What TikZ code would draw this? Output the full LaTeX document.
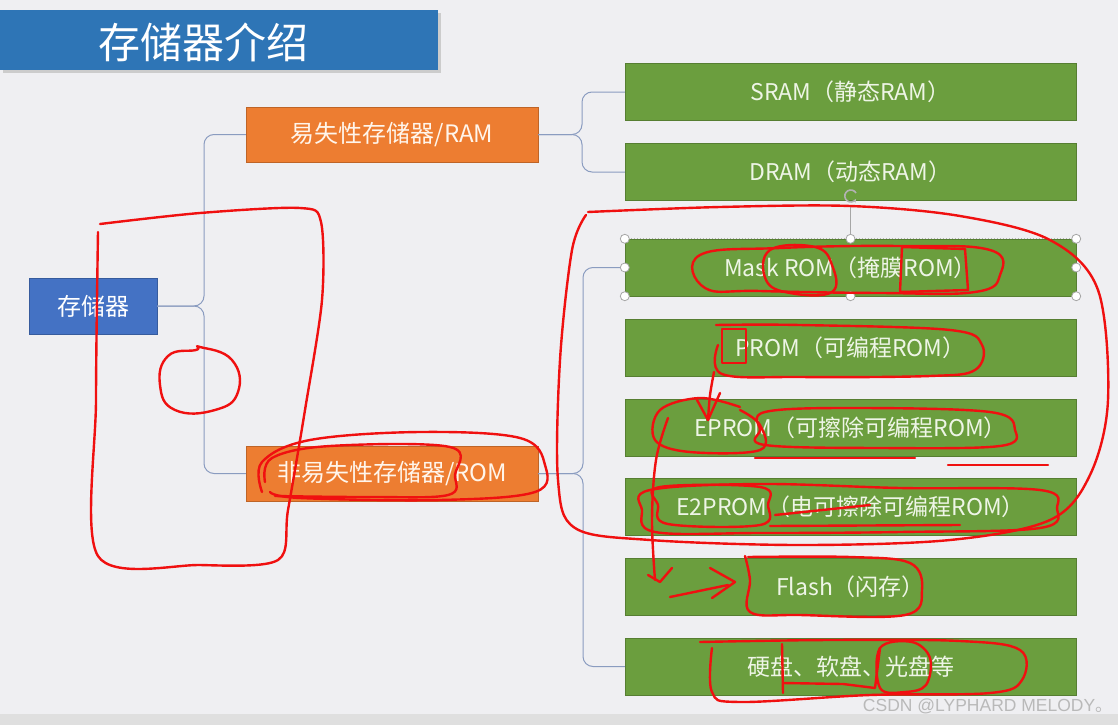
\documentclass[tikz,border=0pt]{standalone}
\usepackage{fontspec}
\setmainfont{Noto Sans CJK SC}
\newfontfamily\wmfont{Liberation Sans}
\usetikzlibrary{arrows.meta}
\definecolor{bgc}{HTML}{EFEFF2}
\definecolor{titleblue}{HTML}{2E75B6}
\definecolor{rootblue}{HTML}{4472C4}
\definecolor{orangec}{HTML}{ED7D31}
\definecolor{greenc}{HTML}{6B9E3E}
\definecolor{greentext}{HTML}{EEF5E6}
\definecolor{connc}{HTML}{8A9CC0}
\definecolor{redink}{HTML}{F01010}
\tikzset{
  greenbox/.style={draw=greenc!80!black,fill=greenc,minimum width=451pt,minimum height=57pt,inner sep=0pt,text=greentext,font=\fontsize{23}{27}\selectfont},
  orangebox/.style={draw=orangec!80!black,fill=orangec,minimum width=292pt,minimum height=55pt,inner sep=0pt,text=white!92!orange,font=\fontsize{24}{28}\selectfont},
  conn/.style={draw=connc,line width=1pt,rounded corners=10pt},
  handle/.style={circle,draw=gray!70,fill=white,line width=0.8pt,minimum size=9pt,inner sep=0pt},
  ink/.style={draw=redink,line width=2.4pt,line cap=round,line join=round}
}
\begin{document}
\begin{tikzpicture}[x=1pt,y=-1pt]
\fill[bgc] (0,0) rectangle (1118,725);
\useasboundingbox (0,0) rectangle (1118,725);
\fill[gray!25] (0,714) rectangle (1118,725);
% title
\fill[gray!40] (3,13) rectangle (441,73);
\node[fill=titleblue,minimum width=438pt,minimum height=60pt,inner sep=0pt] (title) at (219,40) {};
\node[text=white,font=\fontsize{42}{48}\selectfont,anchor=center] (titletext) at (203,42) {存储器介绍};
% root
\node[draw=rootblue!80!black,fill=rootblue,minimum width=128pt,minimum height=56pt,inner sep=0pt,text=white,font=\fontsize{24}{28}\selectfont] (root) at (93,306) {存储器};
% orange
\node[orangebox] (ram) at (392,134.5) {易失性存储器/RAM};
\node[orangebox] (rom) at (392,473.5) {非易失性存储器/ROM};
% green
\node[greenbox] (sram) at (850.5,92) {SRAM（静态RAM）};
\node[greenbox] (dram) at (850.5,172) {DRAM（动态RAM）};
\node[greenbox] (mask) at (850.5,267.5) {Mask ROM（掩膜ROM）};
\node[greenbox] (prom) at (850.5,348) {PROM（可编程ROM）};
\node[greenbox] (eprom) at (850.5,427.5) {EPROM（可擦除可编程ROM）};
\node[greenbox] (eeprom) at (850.5,506.5) {E2PROM（电可擦除可编程ROM）};
\node[greenbox] (flash) at (850.5,586.5) {Flash（闪存）};
\node[greenbox] (disk) at (850.5,666.5) {硬盘、软盘、光盘等};
% connectors
\draw[conn] (root.east) -- (204,306) |- (ram.west);
\draw[conn] (root.east) -- (204,306) |- (rom.west);
\draw[conn] (ram.east) -- (582,134.5) |- (sram.west);
\draw[conn] (ram.east) -- (582,134.5) |- (dram.west);
\draw[conn] (rom.east) -- (583,473.5) |- (mask.west);
\draw[conn] (rom.east) -- (583,473.5) |- (disk.west);
% selection handles on Mask ROM
\draw[gray!60,dotted,line width=1pt] (mask.north west) -- (mask.north east);
\draw[gray!70,line width=0.8pt] (850.5,205) -- (mask.north);
\draw[gray!60,line width=1.6pt,-{Stealth[length=4pt]}] (856,193) arc[start angle=30,end angle=330,radius=6pt];
\foreach \a in {north west,north,north east,west,east,south west,south,south east}
  \node[handle] at (mask.\a) {};
% watermark
\node[anchor=east,text=gray!55,font=\fontsize{17.5}{20}\selectfont,inner sep=0pt] (wm) at (1113,706) {{\wmfont CSDN @LYPHARD MELODY}。};
% red annotations
\draw[ink] plot[smooth,tension=0.5] coordinates {(100,224) (200,213) (300,208) (321,222) (322,300) (305,410) (288,510) (278,560) (200,565) (98,556) (96,400) (98,232)};
\draw[ink] plot[smooth cycle,tension=0.8] coordinates {(200,347) (232,360) (238,392) (215,410) (175,410) (160,385) (168,356) (196,350)};
\draw[ink] plot[smooth,tension=0.6] coordinates {(262,492) (262,462) (310,440) (420,432) (520,438) (545,465) (535,492) (440,500) (300,498) (270,492)};
\draw[ink] plot[smooth,tension=0.6] coordinates {(265,482) (272,458) (330,446) (450,447) (455,475) (448,495) (370,497) (275,496)};
\draw[ink] plot[smooth,tension=0.55] coordinates {(588,212) (720,207) (850,206) (960,216) (1050,240) (1098,290) (1108,400) (1090,475) (1050,520) (950,540) (800,545) (650,540) (575,528) (558,480) (560,360) (572,250) (586,215)};
% Mask ROM loops
\draw[ink] plot[smooth cycle,tension=0.7] coordinates {(700,255) (780,248) (900,246) (990,250) (1000,275) (975,292) (880,293) (760,291) (705,288)};
\draw[ink] plot[smooth cycle,tension=0.7] coordinates {(770,250) (815,247) (832,265) (832,292) (790,293) (766,280)};
\draw[ink] (902,247) -- (900,292) (902,247) -- (965,249) -- (968,290) -- (900,292);
% PROM
\draw[ink] plot[smooth,tension=0.6] coordinates {(716,325) (800,325) (950,330) (982,345) (975,370) (930,376) (800,377) (722,374) (718,345)};
\draw[ink] (722,329) rectangle (746,363);
\draw[ink] plot[smooth,tension=0.5] coordinates {(714,372) (710,395) (708,420)};
\draw[ink] (697,400) -- (708,420) -- (720,393);
% EPROM
\draw[ink] plot[smooth,tension=0.6] coordinates {(740,407) (700,398) (660,410) (655,440) (690,452) (760,450) (760,425) (740,410)};
\draw[ink] plot[smooth cycle,tension=0.6] coordinates {(765,412) (850,408) (990,412) (1015,430) (1000,446) (880,448) (765,445) (760,430)};
\draw[ink] (755,458) -- (915,458);
\draw[ink] (948,465) -- (1048,465);
\draw[ink] plot[smooth,tension=0.6] coordinates {(668,418) (656,460) (652,520) (655,580)};
% E2PROM
\draw[ink] plot[smooth cycle,tension=0.6] coordinates {(650,490) (760,484) (900,488) (1040,490) (1057,508) (1040,528) (900,532) (760,533) (655,532) (642,510)};
\draw[ink] plot[smooth cycle,tension=0.6] coordinates {(660,487) (760,487) (768,505) (760,525) (668,524) (658,505)};
\draw[ink] (775,515) -- (870,505);
\draw[ink] (770,526) -- (960,525);
% Flash
\draw[ink] (648,575) -- (660,582) -- (672,568);
\draw[ink] (670,597) -- (728,585);
\draw[ink] (710,568) -- (735,582) -- (712,598);
\draw[ink] plot[smooth,tension=0.6] coordinates {(745,556) (750,580) (750,612) (800,615) (905,615) (922,590) (910,563) (850,557) (748,557)};
% disk
\draw[ink] plot[smooth,tension=0.6] coordinates {(700,642) (830,640) (960,641) (1020,650) (1022,680) (990,693) (870,695) (740,702) (712,692) (712,648)};
\draw[ink] (782,644) -- (783,693) (783,683) -- (843,684) -- (875,688) -- (880,648);
\draw[ink] plot[smooth cycle,tension=0.6] coordinates {(880,648) (912,642) (930,658) (926,685) (905,692) (880,688)};
\end{tikzpicture}
\end{document}
